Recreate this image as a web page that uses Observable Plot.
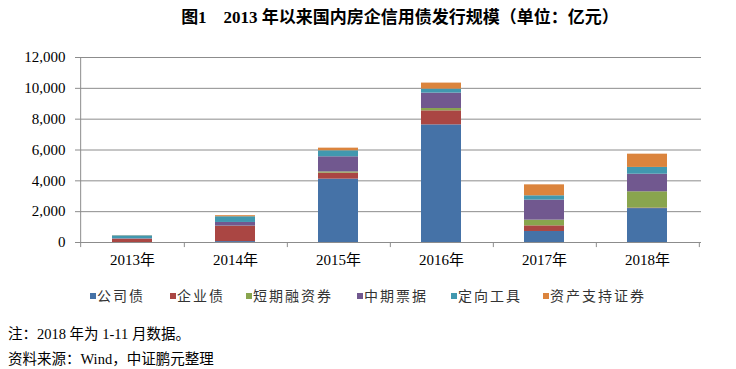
<!DOCTYPE html>
<html><head><meta charset="utf-8">
<script src="https://cdn.jsdelivr.net/npm/d3@7"></script>
<script src="https://cdn.jsdelivr.net/npm/@observablehq/plot@0.6"></script>
<style>
html,body{margin:0;padding:0;background:#fff;}
#wrap{position:relative;width:736px;height:369px;overflow:hidden;background:#fff;}
#chart{position:absolute;left:0;top:0;z-index:1;}
#title{position:absolute;left:0;top:3px;width:800px;text-align:center;font:bold 17px "Liberation Serif","Noto Sans CJK SC",serif;color:#000;white-space:pre;z-index:2;}
#legend{position:absolute;top:285px;left:0;width:736px;height:20px;font:14px "Noto Sans CJK SC",sans-serif;color:#333;letter-spacing:2px;z-index:2;}
.li{position:absolute;top:0;white-space:nowrap;}
.sw{display:inline-block;width:6px;height:6px;margin-right:1px;vertical-align:middle;position:relative;top:-1px;}
.note{position:absolute;left:8px;font:14.5px "Liberation Serif","Noto Sans CJK SC",serif;color:#000;white-space:pre;z-index:2;}
</style></head>
<body><div id="wrap">
<div id="chart"></div>
<div id="title"></div>
<div id="legend"></div>
<div class="note" id="n1" style="top:322px"></div>
<div class="note" id="n2" style="top:347px"></div>
</div>
<script>
const years = ["2013年","2014年","2015年","2016年","2017年","2018年"];
const seriesNames = ["公司债","企业债","短期融资券","中期票据","定向工具","资产支持证券"];
const seriesColors = ["#4572A7","#AA4643","#89A54E","#71588F","#4198AF","#DB843D"];
const gongSiZhai   = [0, 60, 4110, 7630, 715, 2200];
const qiYeZhai     = [220, 980, 390, 910, 365, 30];
const duanRong     = [0, 20, 80, 150, 370, 1060];
const zhongPiao    = [20, 240, 980, 1000, 1300, 1140];
const dingXiang    = [190, 370, 390, 260, 280, 440];
const abs          = [10, 70, 170, 390, 710, 860];
const yTicks = [0, 2000, 4000, 6000, 8000, 10000, 12000];
const titleText = "图1    2013 年以来国内房企信用债发行规模（单位：亿元）";
const note1 = "注：2018 年为 1-11 月数据。";
const note2 = "资料来源：Wind，中证鹏元整理";

const seriesValues = [gongSiZhai, qiYeZhai, duanRong, zhongPiao, dingXiang, abs];
const rows = [];
years.forEach((y, i) => seriesValues.forEach((vals, s) => rows.push({year: y, series: seriesNames[s], value: vals[i]})));

document.getElementById("title").textContent = titleText;
document.getElementById("n1").textContent = note1;
document.getElementById("n2").textContent = note2;

const W = 736, H = 275, mL = 79, mR = 35, mT = 57, mB = 33;
const step = (W - mL - mR) / years.length;
const gridColor = "#8c8c8c";

const chart = Plot.plot({
  width: W, height: H,
  marginLeft: mL, marginRight: mR, marginTop: mT, marginBottom: mB,
  style: {background: "transparent", overflow: "visible"},
  x: {domain: years, paddingInner: 0.61, paddingOuter: 0.305, label: null},
  y: {domain: [0, 12000], label: null},
  color: {domain: seriesNames, range: seriesColors},
  marks: [
    Plot.gridY(yTicks.slice(1), {stroke: gridColor, strokeOpacity: 1, strokeWidth: 1}),
    Plot.barY(rows, {x: "year", y: "value", fill: "series", order: null}),
    Plot.ruleY([0], {stroke: gridColor, strokeWidth: 1}),
    Plot.axisY(yTicks, {tickSize: 4, tickPadding: 10, stroke: gridColor, tickFormat: d3.format(","),
      fontSize: 15, fontFamily: "Liberation Serif", fill: "#000"}),
    Plot.ruleX(years.slice(0,1), {x: d => d, dx: -step/2, y1: 0, y2: 12000, stroke: gridColor}),
    Plot.ruleX(years.slice(0,1), {x: d => d, dx: -step/2, y1: 0, y2: -330, stroke: gridColor}),
    Plot.ruleX(years, {x: d => d, dx: step/2, y1: 0, y2: -330, stroke: gridColor}),
    Plot.axisX({tickSize: 0, tickPadding: 12, fontSize: 15, fontFamily: "Liberation Serif, Noto Sans CJK SC", fill: "#000"})
  ]
});
document.getElementById("chart").appendChild(chart);

const legendX = [90, 170, 246, 357, 451, 543];
const lg = document.getElementById("legend");
seriesNames.forEach((n, i) => {
  const d = document.createElement("div");
  d.className = "li";
  d.style.left = legendX[i] + "px";
  d.innerHTML = `<span class="sw" style="background:${seriesColors[i]}"></span>${n}`;
  lg.appendChild(d);
});
</script>
</body></html>
